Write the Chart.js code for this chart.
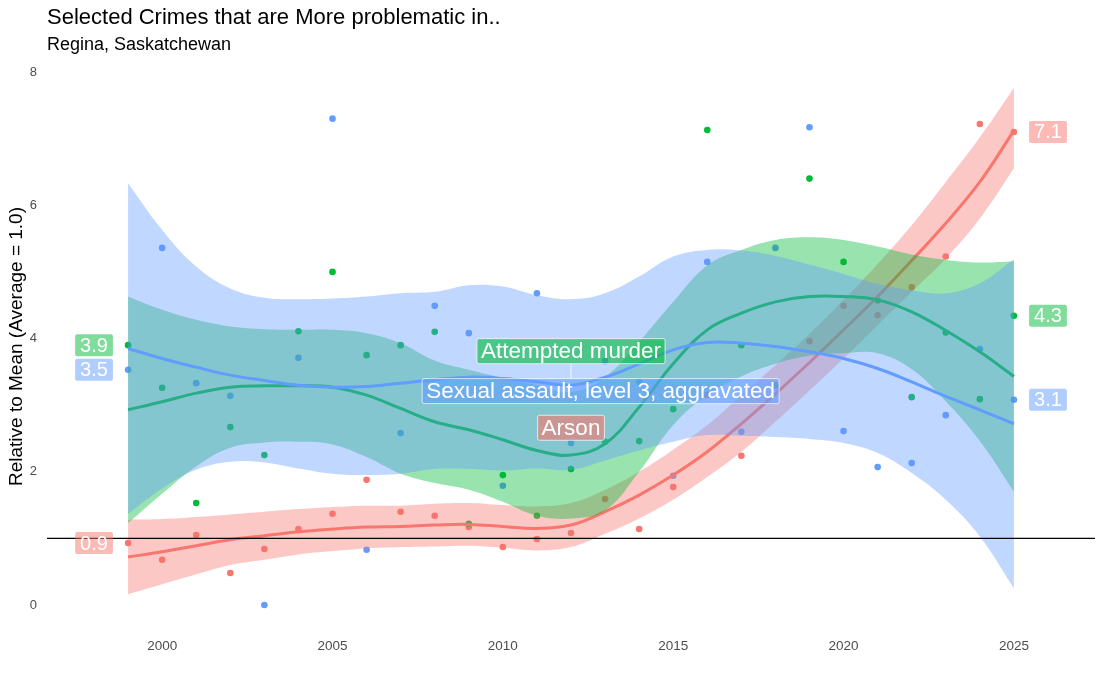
<!DOCTYPE html>
<html>
<head>
<meta charset="utf-8">
<script src="https://cdn.jsdelivr.net/npm/chart.js@4.4.1/dist/chart.umd.min.js"></script>
<style>
  html, body { margin: 0; padding: 0; background: #fff; }
  #wrap { width: 1105px; height: 683px; }
</style>
</head>
<body>
<div id="wrap"><canvas id="crimeChart" width="1105" height="683"></canvas></div>
<script>
// years and values
const years = [1999,2000,2001,2002,2003,2004,2005,2006,2007,2008,2009,2010,2011,2012,2013,2014,2015,2016,2017,2018,2019,2020,2021,2022,2023,2024,2025];
const crimes = ["Arson", "Attempted murder", "Sexual assault, level 3, aggravated"];

const arsonRate = [0.93,0.68,1.05,0.48,0.84,1.14,1.37,1.88,1.40,1.34,1.17,0.87,0.99,1.08,1.59,1.14,1.77,3.15,2.24,3.30,3.96,4.49,4.35,4.77,5.23,7.22,7.10];
const murderRate = [3.90,3.26,1.53,2.67,2.25,4.11,5.00,3.75,3.90,4.10,1.22,1.95,1.34,2.04,2.45,2.46,2.94,7.13,3.90,3.29,6.40,5.15,4.57,3.12,4.09,3.09,4.34];
const sexAssaultRate = [3.53,5.36,3.33,3.14,0.00,3.71,7.30,0.83,2.58,4.49,4.08,1.79,4.68,2.43,3.66,3.35,1.94,5.15,2.60,5.36,7.17,2.61,2.07,2.13,2.85,3.84,3.08];

// smoothed trend + band, also
const arsonFit = [0.72,0.80,0.89,0.98,1.04,1.10,1.14,1.17,1.18,1.20,1.21,1.18,1.15,1.20,1.40,1.65,1.95,2.30,2.72,3.17,3.64,4.13,4.63,5.17,5.73,6.35,7.12];
const arsonLo = [0.16,0.31,0.46,0.60,0.68,0.76,0.81,0.85,0.87,0.88,0.89,0.86,0.82,0.87,1.07,1.30,1.58,1.92,2.30,2.75,3.22,3.70,4.20,4.70,5.20,5.80,6.55];
const arsonHi = [1.28,1.29,1.32,1.36,1.40,1.44,1.47,1.49,1.49,1.52,1.53,1.50,1.48,1.53,1.73,2.00,2.33,2.70,3.15,3.60,4.07,4.58,5.12,5.70,6.35,7.02,7.76];

const murderFit = [2.93,3.05,3.18,3.27,3.29,3.29,3.27,3.15,2.95,2.75,2.63,2.48,2.32,2.25,2.42,2.97,3.62,4.13,4.38,4.55,4.63,4.63,4.58,4.40,4.12,3.80,3.43];
const murderLo = [1.23,1.67,2.08,2.36,2.44,2.45,2.41,2.22,1.97,1.83,1.73,1.55,1.34,1.30,1.42,2.00,2.70,3.15,3.43,3.62,3.74,3.78,3.78,3.54,3.06,2.46,1.70];
const murderHi = [4.63,4.43,4.28,4.18,4.14,4.13,4.13,4.08,3.93,3.67,3.53,3.41,3.30,3.20,3.42,3.95,4.55,5.10,5.33,5.48,5.52,5.48,5.38,5.26,5.18,5.14,5.16];

const sexFit = [3.85,3.70,3.57,3.45,3.37,3.30,3.27,3.28,3.33,3.38,3.42,3.40,3.35,3.30,3.42,3.62,3.83,3.94,3.93,3.88,3.80,3.70,3.55,3.35,3.13,2.93,2.72];
const sexLo = [1.37,1.75,2.03,2.15,2.14,2.05,1.97,1.95,1.97,2.04,2.04,2.02,2.05,2.03,2.17,2.32,2.45,2.55,2.54,2.52,2.49,2.43,2.28,1.98,1.58,1.03,0.25];
const sexHi = [6.33,5.63,5.08,4.75,4.61,4.59,4.60,4.63,4.68,4.70,4.80,4.78,4.65,4.59,4.68,4.93,5.23,5.33,5.32,5.24,5.11,4.97,4.82,4.72,4.68,4.83,5.19];

const xTicks = [2000,2005,2010,2015,2020,2025];
const yTicks = [0,2,4,6,8];
const meanLevel = 1;

const titleText = "Selected Crimes that are More problematic in..";
const subtitleText = "Regina, Saskatchewan";
const yTitle = "Relative to Mean (Average = 1.0)";

// styling
const rgb = [[248,118,109],[0,186,56],[97,156,255]];
const col = (i, a) => a === undefined ? `rgb(${rgb[i].join(',')})` : `rgba(${rgb[i].join(',')},${a})`;
const FONT = "'Liberation Sans', Arial, sans-serif";

// where the repelled series labels sit (x in years, y in chart units)
const namePos = [{x: 2012.0, y: 2.66}, {x: 2012.0, y: 3.81}, {x: 2012.87, y: 3.21}];

const pts = (vals) => years.map((yr, i) => ({x: yr, y: vals[i]}));

function pointSet(i, vals, order) {
  return {type: 'scatter', data: pts(vals), order: order,
    backgroundColor: col(i), borderWidth: 0, pointRadius: 3.3, pointHoverRadius: 3.3};
}
function bandSet(i, hi, lo, order) {
  return [
    {type: 'line', data: pts(hi), order: order, fill: '+1', backgroundColor: col(i, 0.4),
      borderWidth: 0, pointRadius: 0, tension: 0.4},
    {type: 'line', data: pts(lo), order: order, fill: false,
      borderWidth: 0, pointRadius: 0, tension: 0.4}
  ];
}
function fitSet(i, fit, order) {
  return {type: 'line', data: pts(fit), order: order, fill: false, borderColor: col(i),
    borderWidth: 3, pointRadius: 0, tension: 0.4, borderCapStyle: 'butt'};
}

const datasets = [
  pointSet(0, arsonRate, 12),
  pointSet(1, murderRate, 11),
  pointSet(2, sexAssaultRate, 10),
  ...bandSet(0, arsonHi, arsonLo, 9),
  fitSet(0, arsonFit, 8),
  ...bandSet(1, murderHi, murderLo, 7),
  fitSet(1, murderFit, 6),
  ...bandSet(2, sexHi, sexLo, 5),
  fitSet(2, sexFit, 4)
];
const seriesVals = [arsonRate, murderRate, sexAssaultRate];

function box(ctx, text, cx, cy, bg, size, padX, h, stroke) {
  ctx.font = `${size}px ${FONT}`;
  const w = ctx.measureText(text).width + padX * 2;
  ctx.beginPath();
  ctx.roundRect(cx - w / 2, cy - h / 2, w, h, 2);
  ctx.fillStyle = bg;
  ctx.fill();
  if (stroke) { ctx.strokeStyle = stroke; ctx.lineWidth = 1; ctx.stroke(); }
  ctx.fillStyle = '#fff';
  ctx.textAlign = 'center';
  ctx.textBaseline = 'middle';
  ctx.fillText(text, cx, cy + 1);
}

const decorPlugin = {
  id: 'decor',
  afterDatasetsDraw(chart) {
    const ctx = chart.ctx, xs = chart.scales.x, ys = chart.scales.y, area = chart.chartArea;
    ctx.save();
    // mean reference line
    const yy = ys.getPixelForValue(meanLevel);
    ctx.strokeStyle = '#000';
    ctx.lineWidth = 1.3;
    ctx.beginPath();
    ctx.moveTo(area.left, yy);
    ctx.lineTo(area.right, yy);
    ctx.stroke();

    // start / end value labels
    seriesVals.forEach((vals, i) => {
      const first = vals[0], last = vals[vals.length - 1];
      box(ctx, first.toFixed(1), xs.getPixelForValue(years[0] - 1), ys.getPixelForValue(first),
        col(i, 0.5), 20, 5, 22);
      box(ctx, last.toFixed(1), xs.getPixelForValue(years[years.length - 1] + 1), ys.getPixelForValue(last),
        col(i, 0.5), 20, 5, 22);
    });

    // segment under "Attempted murder"
    const mx = xs.getPixelForValue(namePos[1].x), my = ys.getPixelForValue(namePos[1].y);
    ctx.strokeStyle = 'rgba(255,255,255,0.8)';
    ctx.lineWidth = 1;
    ctx.beginPath();
    ctx.moveTo(mx, my + 13);
    ctx.lineTo(mx, my + 27);
    ctx.stroke();

    // series name labels
    crimes.forEach((name, i) => {
      box(ctx, name, xs.getPixelForValue(namePos[i].x), ys.getPixelForValue(namePos[i].y),
        col(i, 0.6), 22.5, 4, 25, 'rgba(255,255,255,0.7)');
    });
    ctx.restore();
  },
  afterDraw(chart) {
    const ctx = chart.ctx;
    ctx.save();
    ctx.fillStyle = '#000';
    ctx.textAlign = 'left';
    ctx.textBaseline = 'alphabetic';
    ctx.font = `22px ${FONT}`;
    ctx.fillText(titleText, 47, 24);
    ctx.font = `18px ${FONT}`;
    ctx.fillText(subtitleText, 47, 50);
    ctx.restore();
  }
};

new Chart(document.getElementById('crimeChart'), {
  type: 'line',
  data: {datasets: datasets},
  plugins: [decorPlugin],
  options: {
    responsive: false,
    animation: false,
    layout: {padding: {top: 62, left: 0, right: 10, bottom: 0}},
    plugins: {legend: {display: false}, tooltip: {enabled: false}, title: {display: false}},
    scales: {
      x: {
        type: 'linear', min: 1996.62, max: 2027.38,
        grid: {display: false, drawTicks: false}, border: {display: false},
        afterBuildTicks: (s) => { s.ticks = xTicks.map(v => ({value: v})); },
        afterFit: (s) => { s.height = 52; },
        ticks: {padding: 7, color: '#4d4d4d', font: {family: FONT, size: 13.5},
          callback: (v) => String(v)}
      },
      y: {
        type: 'linear', min: -0.39, max: 8.15,
        grid: {display: false, drawTicks: false}, border: {display: false},
        afterBuildTicks: (s) => { s.ticks = yTicks.map(v => ({value: v})); },
        afterFit: (s) => { s.width = 47; },
        ticks: {padding: 10, color: '#4d4d4d', font: {family: FONT, size: 13},
          callback: (v) => String(v)},
        title: {display: true, text: yTitle, color: '#000',
          font: {family: FONT, size: 19}, padding: {top: 5, bottom: 0}}
      }
    }
  }
});
</script>
</body>
</html>
